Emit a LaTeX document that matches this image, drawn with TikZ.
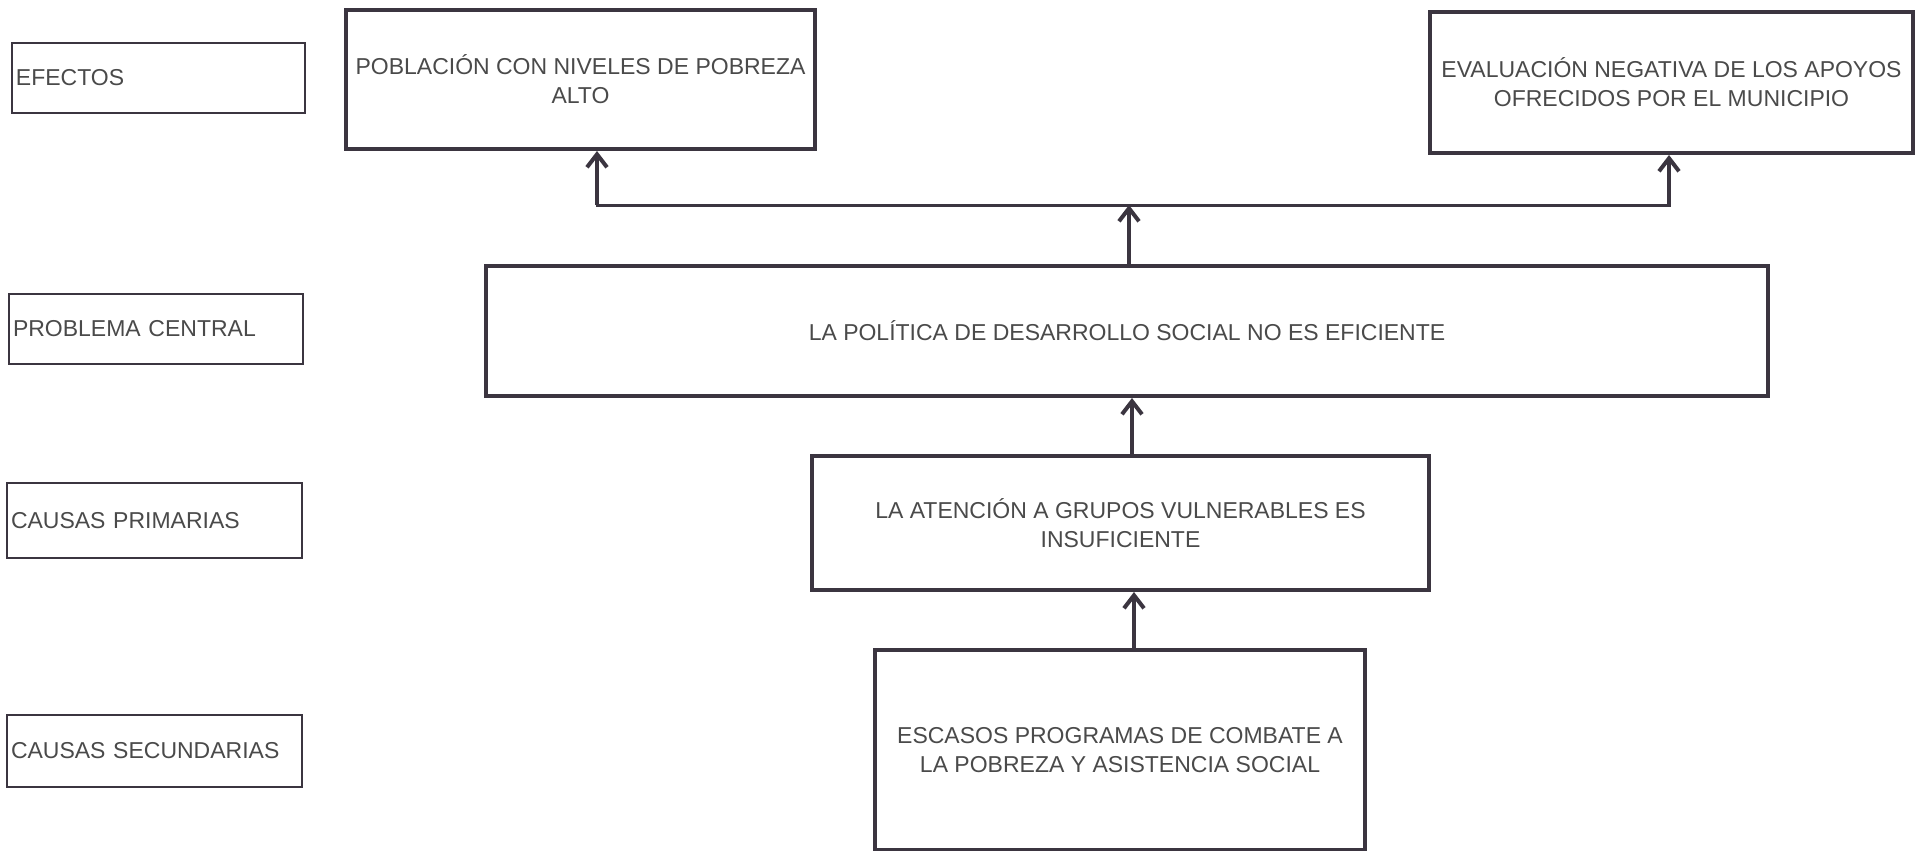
\documentclass[tikz,border=0pt]{standalone}
\usepackage{fontspec}
\setmainfont{Liberation Sans}
\usetikzlibrary{arrows.meta}
\definecolor{ink}{HTML}{3B3540}
\definecolor{txt}{HTML}{4A4A4A}
\tikzset{
  lbl/.style={draw=ink, line width=2pt, rectangle, text=txt, align=left,
    font=\fontsize{23}{29}\selectfont, inner sep=0pt},
  mainbox/.style={draw=ink, line width=4pt, rectangle, text=txt, align=center,
    font=\fontsize{23}{29}\selectfont, inner sep=0pt},
  conn/.style={draw=ink, line width=3pt, line cap=rect},
  arr/.style={draw=ink, line width=4pt, -{Straight Barb[length=13pt,width=20pt]}},
}
\begin{document}
\begin{tikzpicture}[x=1pt,y=-1pt]
\fill[white] (0,0) rectangle (1917,851);
\useasboundingbox (0,0) rectangle (1917,851);

% left labels
\node[lbl, minimum width=293, minimum height=70, text width=285] (efectos) at (158.5,78) {EFECTOS};
\node[lbl, minimum width=294, minimum height=70, text width=286] (problema) at (156,329) {PROBLEMA CENTRAL};
\node[lbl, minimum width=295, minimum height=75, text width=287] (primarias) at (154.5,520.5) {CAUSAS PRIMARIAS};
\node[lbl, minimum width=295, minimum height=72, text width=287] (secundarias) at (154.5,751) {CAUSAS SECUNDARIAS};

% main boxes
\node[mainbox, minimum width=469, minimum height=139] (poblacion) at (580.5,79.5)
  {POBLACIÓN CON NIVELES DE POBREZA\\ALTO};
\node[mainbox, minimum width=483, minimum height=141] (evaluacion) at (1671.5,82.5)
  {EVALUACIÓN NEGATIVA DE LOS APOYOS\\OFRECIDOS POR EL MUNICIPIO};
\node[mainbox, minimum width=1282, minimum height=130] (central) at (1127,331)
  {LA POLÍTICA DE DESARROLLO SOCIAL NO ES EFICIENTE};
\node[mainbox, minimum width=617, minimum height=134] (atencion) at (1120.5,523)
  {LA ATENCIÓN A GRUPOS VULNERABLES ES\\INSUFICIENTE};
\node[mainbox, minimum width=490, minimum height=200] (escasos) at (1120,750)
  {ESCASOS PROGRAMAS DE COMBATE A\\LA POBREZA Y ASISTENCIA SOCIAL};

% connectors
\coordinate (jl) at (597,205);
\coordinate (jr) at (1669,205);
\coordinate (jm) at (1129,205);
\draw[conn] (jl) -- (jr);
\draw[arr] (jl) -- (jl |- poblacion.south);
\draw[arr] (jr) -- (jr |- evaluacion.south);
\draw[arr] (central.north -| jm) -- (jm);
\draw[arr] ([xshift=11.5pt]atencion.north) -- ([xshift=11.5pt]atencion.north |- central.south);
\draw[arr] ([xshift=14pt]escasos.north) -- ([xshift=14pt]escasos.north |- atencion.south);
\end{tikzpicture}
\end{document}
